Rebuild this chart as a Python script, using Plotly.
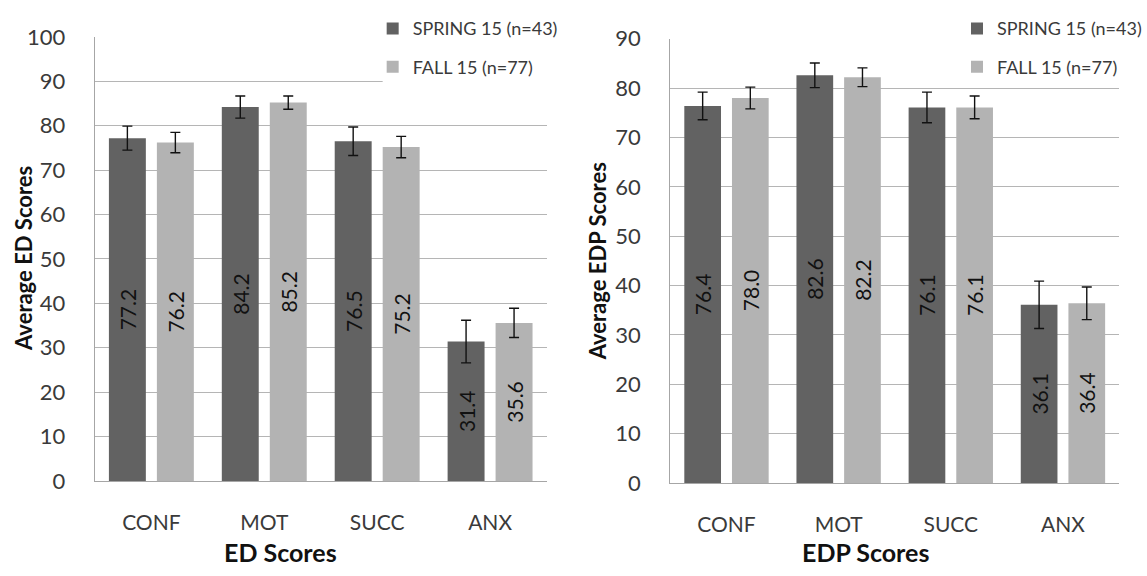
import plotly.graph_objects as go

categories = ["CONF", "MOT", "SUCC", "ANX"]

ed_spring = [77.2, 84.2, 76.5, 31.4]
ed_fall = [76.2, 85.2, 75.2, 35.6]
ed_spring_err = [2.7, 2.5, 3.2, 4.8]
ed_fall_err = [2.3, 1.5, 2.4, 3.3]

edp_spring = [76.4, 82.6, 76.1, 36.1]
edp_fall = [78.0, 82.2, 76.1, 36.4]
edp_spring_err = [2.8, 2.5, 3.1, 4.8]
edp_fall_err = [2.2, 1.9, 2.3, 3.3]

spring_name = "SPRING 15 (n=43)"
fall_name = "FALL 15 (n=77)"

DARK = "#626262"
LIGHT = "#b3b3b3"
FONT = "Lato"
TXT = "#3a3a3a"
W, H = 1147, 576

fig = go.Figure()


def add_bars(y, err, name, color, xa, ya, legend, group):
    fig.add_trace(go.Bar(
        x=categories, y=y, name=name, marker=dict(color=color, line=dict(width=0)),
        error_y=dict(type="data", array=err, visible=True, color="#111111",
                     thickness=1.4, width=5),
        texttemplate="%{y:.1f}", textposition="inside", insidetextanchor="middle",
        textangle=-90, textfont=dict(family=FONT, size=21, color="#111111"),
        xaxis=xa, yaxis=ya, legend=legend, legendgroup=group,
        cliponaxis=False,
    ))


add_bars(ed_spring, ed_spring_err, spring_name, DARK, "x", "y", "legend", "a1")
add_bars(ed_fall, ed_fall_err, fall_name, LIGHT, "x", "y", "legend", "a2")
add_bars(edp_spring, edp_spring_err, spring_name, DARK, "x2", "y2", "legend2", "b1")
add_bars(edp_fall, edp_fall_err, fall_name, LIGHT, "x2", "y2", "legend2", "b2")

GRID = "#b5b5b5"
AXL = "#a6a6a6"

xcommon = dict(type="category", showgrid=False, showline=True, linecolor=AXL, linewidth=1.3,
               ticks="", tickfont=dict(family=FONT, size=21, color=TXT),
               ticklabelstandoff=23, fixedrange=True)
ycommon = dict(showgrid=True, gridcolor=GRID, gridwidth=1.2, showline=True, linecolor=AXL,
               linewidth=1.3, ticks="", dtick=10, zeroline=False,
               tickfont=dict(family=FONT, size=22, color=TXT), ticklabelstandoff=24,
               fixedrange=True)

legcommon = dict(font=dict(family=FONT, size=18, color=TXT), bgcolor="rgba(0,0,0,0)",
                 xanchor="left", yanchor="top", traceorder="grouped",
                 tracegroupgap=12, itemwidth=30, borderwidth=0)

# white panels behind the legends so that the top gridlines stop short of them
shapes = [
    dict(type="rect", xref="paper", yref="paper", x0=383 / W, x1=560 / W,
         y0=1 - 84 / H, y1=1, fillcolor="white", line=dict(width=0), layer="above"),
    dict(type="rect", xref="paper", yref="paper", x0=968 / W, x1=1.0,
         y0=1 - 46 / H, y1=1, fillcolor="white", line=dict(width=0), layer="above"),
]

fig.update_layout(
    width=W, height=H, margin=dict(l=0, r=0, t=0, b=0),
    paper_bgcolor="white", plot_bgcolor="white",
    barmode="group", bargap=0.15, bargroupgap=0.23,
    xaxis=dict(domain=[95 / W, 547 / W], anchor="y", **xcommon),
    yaxis=dict(domain=[1 - 490 / H, 1 - 24 / H], range=[0, 100], anchor="x", **ycommon),
    xaxis2=dict(domain=[671 / W, 1120 / W], anchor="y2", **xcommon),
    yaxis2=dict(domain=[1 - 492 / H, 1 - 26 / H], range=[0, 90], anchor="x2", **ycommon),
    legend=dict(x=373 / W, y=1 + 4 / H, **legcommon),
    legend2=dict(x=958 / W, y=1 + 4 / H, **legcommon),
    showlegend=True,
    shapes=shapes,
    annotations=[
        dict(text="<b>Average ED Scores</b>", x=23 / W, y=1 - 256 / H, xref="paper", yref="paper",
             xanchor="center", yanchor="middle",
             textangle=-90, showarrow=False, font=dict(family=FONT, size=22, color="#111111")),
        dict(text="<b>Average EDP Scores</b>", x=598 / W, y=1 - 259 / H, xref="paper", yref="paper",
             xanchor="center", yanchor="middle",
             textangle=-90, showarrow=False, font=dict(family=FONT, size=22, color="#111111")),
        dict(text="<b>ED Scores</b>", x=281 / W, y=1 - 564 / H, xref="paper", yref="paper",
             xanchor="center", yanchor="middle",
             showarrow=False, font=dict(family=FONT, size=25, color="#111111")),
        dict(text="<b>EDP Scores</b>", x=866 / W, y=1 - 564 / H, xref="paper", yref="paper",
             xanchor="center", yanchor="middle",
             showarrow=False, font=dict(family=FONT, size=25, color="#111111")),
    ],
)

fig.write_html("out.html", config={"displayModeBar": False})
